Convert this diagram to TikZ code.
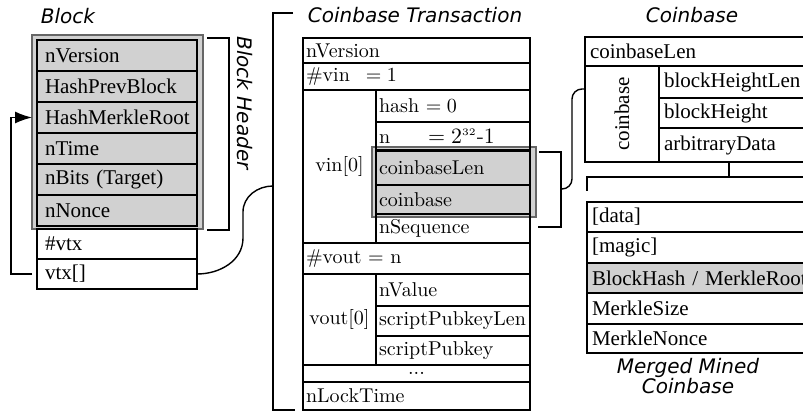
\documentclass[tikz,border=0pt]{standalone}
\usepackage{fontspec}
\newfontfamily\timesf{Liberation Serif}
\newfontfamily\titlef{DejaVu Sans}
\usetikzlibrary{arrows.meta}

\definecolor{cellgray}{gray}{0.82}
\definecolor{boxedge}{gray}{0.4}

\tikzset{
  cell/.style={draw, anchor=north west, outer sep=0pt, inner ysep=0pt, align=left, line width=0.7pt},
  tcell/.style={cell, font=\fontsize{10.5}{12}\timesf},
  blk/.style={tcell, inner xsep=4pt, text width=72pt, minimum height=15.5pt},
  blkg/.style={blk, fill=cellgray},
  cb/.style={tcell, inner xsep=2.5pt},
  mcell/.style={cell, font=\fontsize{10}{12}\selectfont, inner xsep=1.5pt},
  mfull/.style={mcell, text width=110.5pt},
  mright/.style={mcell, text width=74pt},
  mleft/.style={mcell, text width=33.5pt, align=center},
  graybox/.style={draw=boxedge, fill=cellgray, anchor=north west, outer sep=0pt, line width=0.7pt},
  bracket/.style={line width=0.7pt},
  conn/.style={line width=0.7pt},
  title/.style={font=\fontsize{10}{10}\titlef\itshape}
}

\begin{document}
\begin{tikzpicture}[x=0.5pt,y=-0.5pt]
  \useasboundingbox (0,0) rectangle (803,411);
  \clip (0,0) rectangle (803,411);

  %% Block
  \node[title] (blocklbl) at (68,16) {Block};
  \node[graybox, minimum width=85.5pt, minimum height=97pt] (hdr) at (32,35) {};
  \node[blkg] (nver) at (37,40) {nVersion};
  \node[blkg] (hpb) at (37,71) {HashPrevBlock};
  \node[blkg] (hmr) at (37,102) {HashMerkleRoot};
  \node[blkg] (ntime) at (37,133) {nTime};
  \node[blkg] (nbits) at (37,164) {nBits (Target)};
  \node[blkg] (nnonce) at (37,195) {nNonce};
  \node[blk, minimum height=15pt] (nvtx) at (37,229) {\#vtx};
  \node[blk, minimum height=15pt] (vtx) at (37,259) {vtx[]};

  \draw[bracket] (207,38) -- (229,38) -- (229,230) -- (207,230);
  \node[title, rotate=-90] (hdrlbl) at (245,103) {Block Header};

  %% Coinbase Transaction
  \node[title] (ctxlbl) at (415,15) {Coinbase Transaction};
  \draw[bracket] (293,13) -- (273,13) -- (273,410) -- (295,410);
  \coordinate (ctxb) at (273,186);

  \node[graybox, minimum width=82pt, minimum height=35pt] (vinbox) at (372,147) {};
  \node[mfull, minimum height=12.5pt] (tver) at (303,38) {nVersion};
  \node[mfull, minimum height=13.5pt] (tvin) at (303,63) {\#vin\hspace{8pt}$=1$};
  \node[mleft, minimum height=76.5pt] (vin) at (303,90) {vin[0]};
  \node[mright, minimum height=16pt] (thash) at (376,90) {hash $=0$};
  \node[mright, minimum height=14pt] (tn) at (376,122) {n\hspace{19pt}{\fontsize{11}{12}\selectfont$=2^{\scriptscriptstyle 32}$-1}};
  \node[mright, minimum height=17pt, fill=cellgray] (tcblen) at (376,151) {coinbaseLen};
  \node[mright, minimum height=14.5pt, fill=cellgray] (tcb) at (376,185) {coinbase};
  \node[mright, minimum height=14.5pt] (tseq) at (376,214) {nSequence};
  \node[mfull, minimum height=15.5pt] (tvout) at (303,243) {\#vout $=$ n};
  \node[mleft, minimum height=45.5pt] (vout) at (303,274) {vout[0]};
  \node[mright, minimum height=16pt] (tval) at (376,274) {nValue};
  \node[mright, minimum height=15pt] (tspl) at (376,306) {scriptPubkeyLen};
  \node[mright, minimum height=14.5pt] (tsp) at (376,336) {scriptPubkey};
  \node[mfull, minimum height=8.5pt, align=center] (tdots) at (303,365) {...};
  \node[mfull, minimum height=14pt] (tlock) at (303,382) {nLockTime};

  \draw[bracket] (539,152) -- (561,152) -- (561,227) -- (538,227);
  \coordinate (vinbr) at (561,189);

  %% Coinbase
  \node[title] (cblbl) at (692,15) {Coinbase};
  \node[cb, text width=117.5pt, minimum height=14.5pt] (cblen) at (585,37) {coinbaseLen};
  \node[cell, minimum width=37pt, minimum height=48pt] (cbcol) at (585,66) {};
  \node[font=\fontsize{10.5}{12}\timesf, rotate=90] (cbcollbl) at (cbcol.center) {coinbase};
  \node[cb, text width=80.5pt, minimum height=16pt] (bhlen) at (659,66) {blockHeightLen};
  \node[cb, text width=80.5pt, minimum height=15pt] (bh) at (659,98) {blockHeight};
  \node[cb, text width=80.5pt, minimum height=17pt] (adata) at (659,128) {arbitraryData};

  \draw[bracket] (729,162) -- (729,177);
  \draw[bracket] (587,191) -- (587,177) -- (830,177);

  %% Merged Mined Coinbase
  \node[cb, text width=116.5pt, minimum height=15pt] (mdata) at (587,202) {[data]};
  \node[cb, text width=116.5pt, minimum height=15.5pt] (mmagic) at (587,232) {[magic]};
  \node[cb, text width=116.5pt, minimum height=15pt, fill=cellgray] (mhash) at (587,263) {BlockHash / MerkleRoot};
  \node[cb, text width=116.5pt, minimum height=15.5pt] (msize) at (587,293) {MerkleSize};
  \node[cb, text width=116.5pt, minimum height=14.5pt] (mnonce) at (587,324) {MerkleNonce};
  \node[title, align=center] (mmlbl) at (688,376) {Merged Mined\\Coinbase};

  %% Connectors
  \draw[conn, -{Latex[length=8.5pt,width=6pt]}] ([xshift=-2.5pt]vtx.west) -- ++(-21,0) |- (hdr.west |- hmr.west);
  \draw[conn] (vtx.east) to[out=0,in=-90] (243,238) -- (243,212) to[out=90,in=180] (ctxb);
  \draw[conn, rounded corners=5pt] (vinbr) -- ++(11,0) |- ([yshift=12.5pt]cbcol.west);

\end{tikzpicture}
\end{document}
